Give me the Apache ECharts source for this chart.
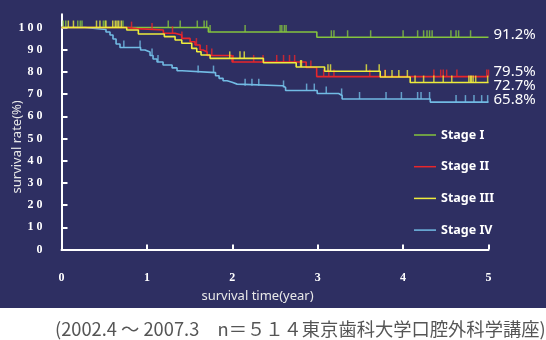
<!DOCTYPE html>
<html><head><meta charset="utf-8">
<script src="https://cdn.jsdelivr.net/npm/echarts@6/dist/echarts.min.js"></script>
<style>
html,body{margin:0;padding:0;background:#fff}
#c{width:546px;height:340px;background:linear-gradient(#2e2f62 0,#2e2f62 308px,#ffffff 308px)}
</style>
</head><body><div id="c"></div>
<script>
// ---- data ----
const stageNames = ['Stage I', 'Stage II', 'Stage III', 'Stage IV'];
const endRates = ['91.2%', '79.5%', '72.7%', '65.8%'];
const yTickValues = [0, 10, 20, 30, 40, 50, 60, 70, 80, 90, 100];
const xTickValues = [0, 1, 2, 3, 4, 5];
const caption = '(2002.4 ～ 2007.3　n＝５１４東京歯科大学口腔外科学講座)';

// Kaplan-Meier steps: [time(year), survival rate(%)]
const stage1Steps = [[0,100],[1.72,98.0],[2.99,95.6],[5,95.6]];
const stage2Steps = [[0,100],[0.767,99.5],[0.885,98.9],[1.193,97.4],[1.330,96.6],[1.408,95.1],
  [1.506,93.6],[1.564,92.1],[1.623,89.9],[1.658,89.0],[1.705,87.4],[1.998,84.5],[2.865,82.0],
  [2.988,77.9],[5,77.9]];
const stage3Steps = [[0,100],[0.764,98.9],[0.900,97.1],[1.204,95.9],[1.330,94.4],[1.408,92.9],
  [1.525,90.6],[1.584,89.1],[1.634,87.6],[1.740,86.1],[2.364,84.1],[2.748,82.2],[3.081,80.3],
  [3.732,77.7],[4.083,75.2],[5,75.2]];
const stage4Steps = [[0,100],[0.275,99.1],[0.521,98.0],[0.568,96.6],[0.603,94.8],[0.639,92.6],
  [0.685,91.0],[0.926,89.9],[0.978,89.0],[1.037,87.4],[1.072,85.8],[1.119,84.5],[1.189,83.1],
  [1.295,81.8],[1.353,80.5],[1.412,79.7],[1.804,78.3],[1.845,77.1],[1.892,76.0],[1.939,75.3],
  [1.998,74.5],[2.056,73.8],[2.589,73.0],[2.624,71.6],[2.994,70.3],[3.245,69.4],[3.286,67.8],
  [4.318,66.4],[5,66.4]];

// censored observation times (year)
const stage1Censored = [0.02,0.05,0.19,0.22,0.24,0.49,0.51,0.72,1.25,1.39,1.59,1.67,1.70,1.74,2.15,
  2.56,2.58,2.61,2.63,3.16,3.19,3.35,3.62,4.00,4.17,4.24,4.28,4.31,4.34,4.56,4.62,4.65,4.79];
const stage2Censored = [0.82,1.06,1.30,1.41,1.58,1.70,1.76,2.01,2.25,2.36,2.52,2.60,2.67,2.73,2.92,
  3.07,3.13,3.19,3.61,3.79,4.36,4.44,4.47,4.51,4.63,4.98,5.0];
const stage3Censored = [0.08,0.14,0.41,0.45,0.52,0.60,0.63,0.65,0.67,0.70,1.97,2.09,2.14,2.80,2.81,
  3.12,3.15,3.57,3.72,3.79,3.87,3.95,4.05,4.14,4.24,4.36,4.47,4.57,4.77,4.79,4.80,4.82,4.85,4.99];
const stage4Censored = [0.73,0.92,1.06,1.13,1.60,1.78,2.15,2.23,2.31,2.60,2.87,2.96,3.10,3.28,3.49,
  3.80,3.98,4.17,4.21,4.31,4.62,4.73,4.83,4.92,4.99];

// ---- styling ----
const colors = ['#84c43e', '#e8262b', '#eeec3c', '#72bbe4'];
const labelDy = [-3, -5, 3.5, -2];
const allSteps = [stage1Steps, stage2Steps, stage3Steps, stage4Steps];
const allCensored = [stage1Censored, stage2Censored, stage3Censored, stage4Censored];

function valueAt(steps, t) {
  let v = steps[0][1];
  for (const [st, sv] of steps) { if (st <= t) v = sv; else break; }
  return v;
}

const drawOrder = [0, 3, 1, 2];
const series = [];
drawOrder.forEach((i, k) => {
  series.push({
    name: stageNames[i], type: 'line', step: 'end', data: allSteps[i],
    showSymbol: false, symbol: 'none', color: colors[i], z: 2 + k,
    lineStyle: { color: colors[i], width: 1.6 },
    endLabel: { show: true, formatter: endRates[i], color: '#ffffff', fontSize: 15,
      fontFamily: 'Noto Sans', distance: 5, offset: [0, labelDy[i]] },
    silent: true
  });
  series.push({
    name: stageNames[i] + ' censored', type: 'scatter',
    data: allCensored[i].map(t => [t, valueAt(allSteps[i], t)]),
    symbol: 'rect', symbolSize: [1.5, 7], symbolOffset: [0, -3.5],
    itemStyle: { color: colors[i] }, z: 2 + k, silent: true
  });
});

const chart = echarts.init(document.getElementById('c'), null, { renderer: 'canvas' });
chart.setOption({
  animation: false,
  backgroundColor: 'transparent',
  grid: { left: 61.5, right: 57.5, top: 14.2, bottom: 90.5, containLabel: false, outerBoundsMode: 'none' },
  title: {
    text: caption, left: 55, top: 320, padding: 0,
    textStyle: { color: '#555555', fontSize: 18.3, fontWeight: 'normal', fontFamily: 'Noto Sans CJK JP' }
  },
  legend: {
    data: stageNames, orient: 'vertical', left: 414, top: 127, padding: 0, icon: 'rect',
    itemWidth: 22, itemHeight: 1.5, itemGap: 15.7, selectedMode: false,
    textStyle: { color: '#ffffff', fontSize: 12.5, fontWeight: 'bold', fontFamily: 'Noto Sans', lineHeight: 16 }
  },
  xAxis: {
    type: 'value', min: 0, max: 5, interval: 1,
    name: 'survival time(year)', nameLocation: 'middle', nameGap: 40, nameMoveOverlap: false,
    nameTextStyle: { color: '#e8e8e8', fontSize: 13, fontFamily: 'Noto Sans', padding: [0, 35, 0, 0] },
    axisLine: { show: true, lineStyle: { color: '#ffffff', width: 2 } },
    axisTick: { show: true, inside: true, length: 5, lineStyle: { color: '#ffffff', width: 2 }, customValues: xTickValues },
    axisLabel: { color: '#ffffff', fontSize: 12, fontWeight: 'bold', fontFamily: 'Liberation Serif', margin: 22, customValues: xTickValues },
    splitLine: { show: false }
  },
  yAxis: {
    type: 'value', min: 0, max: 106, interval: 10,
    name: 'survival rate(%)', nameLocation: 'middle', nameGap: 38, nameRotate: 90, nameMoveOverlap: false,
    nameTextStyle: { color: '#e8e8e8', fontSize: 13, fontFamily: 'Noto Sans', padding: [0, 30, 0, 0] },
    axisLine: { show: true, lineStyle: { color: '#ffffff', width: 2 } },
    axisTick: { show: true, inside: true, length: 6, lineStyle: { color: '#ffffff', width: 2 }, customValues: yTickValues },
    axisLabel: { color: '#ffffff', fontSize: 12, fontWeight: 'bold', fontFamily: 'Liberation Serif', margin: 19,
      customValues: yTickValues, formatter: v => String(v).split('').join(' ') },
    splitLine: { show: false }
  },
  series: series
});
</script>
</body></html>
